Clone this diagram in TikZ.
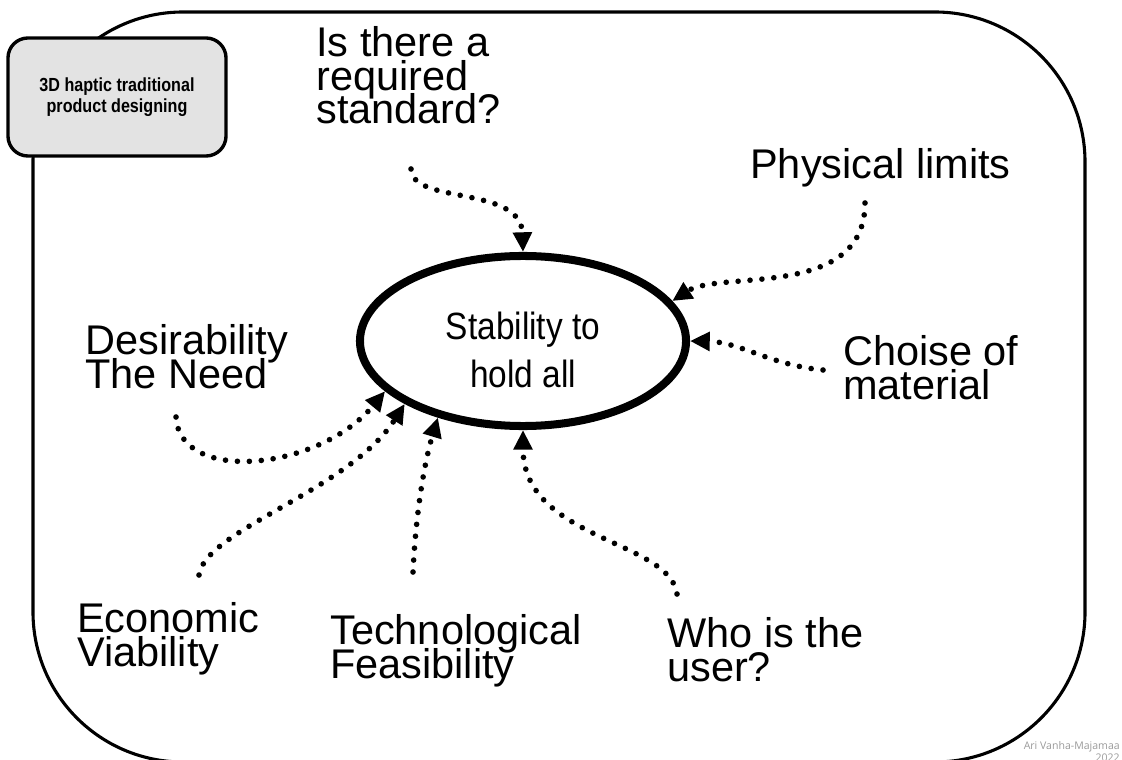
\documentclass[tikz,border=0pt]{standalone}
\usepackage{fontspec}
\setmainfont{Liberation Sans}
\newfontfamily\boxfont[FakeStretch=0.85]{Liberation Sans}
\newfontfamily\corefont[FakeStretch=0.88]{Liberation Sans}
\newfontfamily\notefont{Open Sans}
\usetikzlibrary{arrows.meta,shapes.geometric}
\definecolor{boxgray}{HTML}{E3E3E3}
\definecolor{notegray}{HTML}{9A9A9A}
\newcommand\tightlines{\lineskiplimit=-100pt\relax}

\begin{document}
\begin{tikzpicture}[x=0.025cm,y=-0.025cm,
  lbl/.style={anchor=north west,align=left,inner sep=0pt,font=\fontsize{29.5}{24}\selectfont\tightlines},
  flow/.style={line width=4pt,line cap=round,dash pattern=on 0pt off 8.5pt,-{Triangle[length=14pt,width=13pt]}}]
\useasboundingbox (0,0) rectangle (1122,760);
% outer frame, bottom edge runs off the page
\draw[line width=2.2pt,rounded corners=3.75cm] (33,12) rectangle (1085,762);
\node[draw,line width=2.4pt,fill=boxgray,rounded corners=0.5cm,minimum width=5.45cm,minimum height=2.95cm,align=center,font=\boxfont\bfseries\fontsize{13.5}{15.2}\selectfont] (mode) at (117,97) {3D haptic traditional\\product designing};
\node[ellipse,draw,line width=5.7pt,minimum width=8.15cm,minimum height=4.25cm,align=center,font=\corefont\fontsize{27}{34}\selectfont] (core) at (523,341) {\rule{0pt}{32pt}Stability to\\hold all};

% the questions around it
\node[lbl] (std) at (316,26) {Is there a\\required\\standard?};
\node[lbl] (phy) at (750,148) {Physical limits};
\node[lbl] (mat) at (843,335) {Choise of\\material};
\node[lbl] (des) at (85,324) {Desirability\\The Need};
\node[lbl] (eco) at (77,602) {Economic\\Viability};
\node[lbl] (tec) at (330,614) {Technological\\Feasibility};
\node[lbl] (usr) at (667,617) {Who is the\\user?};
\node[anchor=north east,align=right,inner sep=0pt,text=notegray,font=\notefont\fontsize{7.5}{9}\selectfont] (sig) at (1120,741) {Ari Vanha-Majamaa\\2022};

% where the dotted arrows start
\coordinate (std0) at (411,169);
\coordinate (phy0) at (865,203);
\coordinate (mat0) at (823,370);
\coordinate (des0) at (176,417);
\coordinate (eco0) at (199,575);
\coordinate (tec0) at (413,572);
\coordinate (usr0) at (677,594);

\draw[flow] (std0) .. controls (412,205) and (521,185) .. (core.north);
\draw[flow] (phy0) .. controls (865,300) and (720,270) .. (core.15);
\draw[flow] (mat0) .. controls (770,365) and (740,342) .. (core.east);
\draw[flow] (des0) .. controls (180,485) and (320,470) .. (core.200);
\draw[flow] (eco0) .. controls (205,530) and (350,490) .. (core.208);
\draw[flow] (tec0) .. controls (416,510) and (425,460) .. (core.222);
\draw[flow] (usr0) .. controls (670,540) and (523,540) .. (core.south);
\end{tikzpicture}
\end{document}
